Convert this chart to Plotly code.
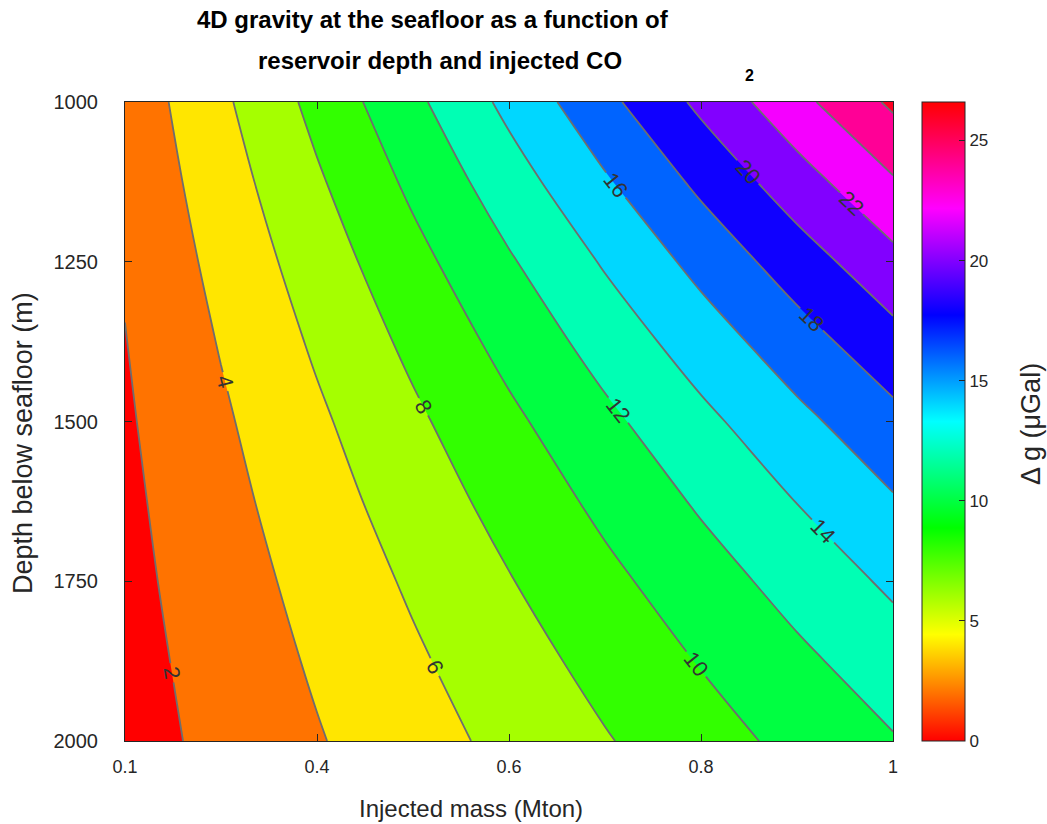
import colorsys
import plotly.graph_objects as go

# ---------------- data ----------------
mass = [0.2, 0.3, 0.4, 0.5, 0.6, 0.7, 0.8, 0.9, 1.0]          # axis position (Mton)
depth = [1000, 1125, 1250, 1375, 1500, 1625, 1750, 1875, 2000]  # m below seafloor
# gravity change (µGal), rows = depth, columns = mass
dg_row_1000 = [2.65, 5.62, 8.58, 11.54, 14.51, 17.47, 20.43, 23.40, 26.36]
dg_row_1125 = [2.40, 5.07, 7.74, 10.42, 13.09, 15.77, 18.44, 21.11, 23.79]
dg_row_1250 = [2.16, 4.57, 6.97, 9.38, 11.79, 14.20, 16.61, 19.01, 21.42]
dg_row_1375 = [1.95, 4.12, 6.29, 8.46, 10.63, 12.81, 14.98, 17.15, 19.32]
dg_row_1500 = [1.76, 3.71, 5.67, 7.63, 9.59, 11.55, 13.51, 15.47, 17.43]
dg_row_1625 = [1.59, 3.37, 5.15, 6.93, 8.70, 10.48, 12.26, 14.04, 15.82]
dg_row_1750 = [1.45, 3.06, 4.67, 6.28, 7.90, 9.51, 11.12, 12.74, 14.35]
dg_row_1875 = [1.31, 2.78, 4.25, 5.71, 7.18, 8.64, 10.11, 11.58, 13.04]
dg_row_2000 = [1.19, 2.53, 3.86, 5.19, 6.53, 7.86, 9.19, 10.53, 11.86]
dg = [dg_row_1000, dg_row_1125, dg_row_1250, dg_row_1375, dg_row_1500,
      dg_row_1625, dg_row_1750, dg_row_1875, dg_row_2000]

x_tickvals = [0.2, 0.4, 0.6, 0.8, 1.0]
x_ticktext = ["0.1", "0.4", "0.6", "0.8", "1"]
y_tickvals = [1000, 1250, 1500, 1750, 2000]
cbar_tickvals = [0, 5, 10, 15, 20, 25]
level_start, level_end, level_step = 0, 26, 2
c_min, c_max = 0, 26.6

# ---------------- styling helpers ----------------
TXT = "#262626"
FONT = "Liberation Sans, Arial, Helvetica, sans-serif"


def hsv_hex(h):
    r, g, b = colorsys.hsv_to_rgb(h % 1.0, 1, 1)
    return "#%02x%02x%02x" % (round(r * 255), round(g * 255), round(b * 255))


# discrete fill colours: band [L, L+step] gets the hsv colour of its lower level.
# plotly colours band [L, L+step] with the colorscale at L + step/2, where the
# colorscale spans [start - step/2, start + (n_lev - 0.5) * step]
n_lev = (level_end - level_start) // level_step + 1
span = n_lev * level_step
fill_scale = []
for k in range(-1, n_lev):
    lower = max(level_start + k * level_step, c_min)
    s = (k + 1) * level_step / span
    fill_scale.append([s, hsv_hex((lower - c_min) / (c_max - c_min))])

hsv_scale = [[i / 6, hsv_hex(i / 6)] for i in range(7)]

fig = go.Figure()
fig.add_trace(go.Contour(
    x=mass, y=depth, z=dg,
    autocontour=False,
    contours=dict(start=level_start, end=level_end, size=level_step,
                  coloring="fill", showlabels=True,
                  labelfont=dict(family=FONT, size=22, color="#333333")),
    colorscale=fill_scale,
    line=dict(color="#6e6e6e", width=1.8),
    showscale=False,
    hoverinfo="skip",
))

fig.add_trace(go.Scatter(
    x=[mass[0]], y=[depth[0]], mode="markers",
    marker=dict(size=1, opacity=0, color=[c_min], cmin=c_min, cmax=c_max,
                colorscale=hsv_scale, showscale=True,
                colorbar=dict(x=1 + 29 / 768, xanchor="left", xpad=0, ypad=0,
                              y=0.5, yanchor="middle", len=1, lenmode="fraction",
                              thickness=43, thicknessmode="pixels",
                              outlinewidth=1, outlinecolor=TXT,
                              ticks="inside", ticklen=6, tickcolor=TXT,
                              tickvals=cbar_tickvals,
                              tickfont=dict(family=FONT, size=17, color=TXT))),
    hoverinfo="skip", showlegend=False,
))

axis_common = dict(showgrid=False, zeroline=False, showline=True, linecolor=TXT,
                   linewidth=1, mirror="allticks", ticks="inside", ticklen=7,
                   tickcolor=TXT)

fig.update_layout(
    width=1047, height=824,
    margin=dict(l=125, r=154, t=102, b=83),
    paper_bgcolor="white", plot_bgcolor="white",
    showlegend=False,
    xaxis=dict(range=[0.2, 1.0], tickvals=x_tickvals, ticktext=x_ticktext,
               ticklabelstandoff=9, tickfont=dict(family=FONT, size=18, color=TXT),
               **axis_common),
    yaxis=dict(range=[2000, 1000], tickvals=y_tickvals,
               ticklabelstandoff=22, tickfont=dict(family=FONT, size=20, color=TXT),
               **axis_common),
    annotations=[
        dict(text="<b>4D gravity at the seafloor as a function of</b>",
             xref="paper", yref="paper", x=(433 - 125) / 768, y=1 + (102 - 19) / 639,
             xanchor="center", yanchor="middle", showarrow=False,
             font=dict(family=FONT, size=24, color="black")),
        dict(text="<b>reservoir depth and injected CO</b>",
             xref="paper", yref="paper", x=(440 - 125) / 768, y=1 + (102 - 61) / 639,
             xanchor="center", yanchor="middle", showarrow=False,
             font=dict(family=FONT, size=24, color="black")),
        dict(text="<b>2</b>",
             xref="paper", yref="paper", x=(749 - 125) / 768, y=1 + (102 - 75) / 639,
             xanchor="center", yanchor="middle", showarrow=False,
             font=dict(family=FONT, size=16, color="black")),
        dict(text="Injected mass (Mton)",
             xref="paper", yref="paper", x=(471 - 125) / 768, y=-(808 - 741) / 639,
             xanchor="center", yanchor="middle", showarrow=False,
             font=dict(family=FONT, size=24, color=TXT)),
        dict(text="Depth below seafloor (m)",
             xref="paper", yref="paper", x=(23 - 125) / 768, y=1 - (443 - 102) / 639,
             xanchor="center", yanchor="middle", showarrow=False, textangle=-90,
             font=dict(family=FONT, size=27, color=TXT)),
        dict(text="\u0394 g (\u03bcGal)",
             xref="paper", yref="paper", x=(1031 - 125) / 768, y=1 - (424 - 102) / 639,
             xanchor="center", yanchor="middle", showarrow=False, textangle=-90,
             font=dict(family=FONT, size=27, color=TXT)),
    ],
)

fig.write_html("out.html")
